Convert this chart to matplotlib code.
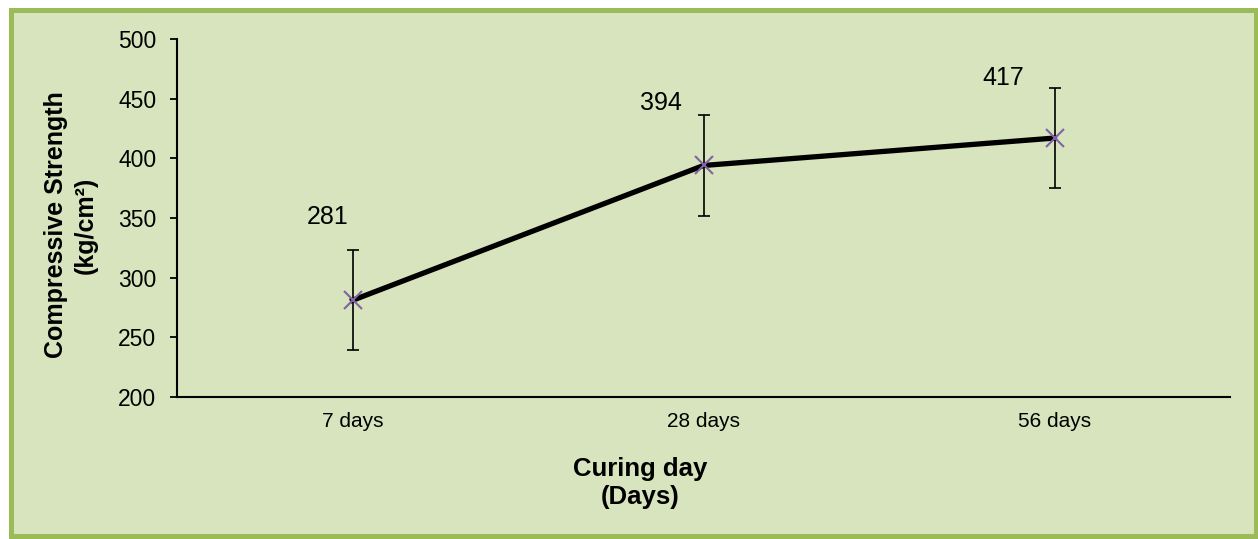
import matplotlib
matplotlib.use("Agg")
import matplotlib.pyplot as plt
from matplotlib.patches import Rectangle

categories = ["7 days", "28 days", "56 days"]
strength = [281, 394, 417]
errors = [42, 42, 42]
yticks = [200, 250, 300, 350, 400, 450, 500]
# label offsets (points) relative to each data point
label_offsets = [(-18, 60), (-31, 45), (-37, 43)]

plt.rcParams['font.family'] = ['Liberation Sans', 'DejaVu Sans']

W, H = 1258, 539
fig = plt.figure(figsize=(W / 100, H / 100), dpi=100)
fig.patch.set_facecolor('white')

# background panel with green border
bg = Rectangle((10.5 / W, 1 - 536 / H), 1245 / W, 526.5 / H,
               transform=fig.transFigure, facecolor='#D7E4BD',
               edgecolor='#9BBB59', linewidth=3.6, zorder=-10)
fig.patches.append(bg)

ax = fig.add_axes([177 / W, 1 - 397 / H, (1230 - 177) / W, (397 - 39) / H])
ax.set_zorder(5)
ax.set_facecolor('none')
x = list(range(len(categories)))
ax.errorbar(x, strength, yerr=errors, fmt='none', ecolor='black',
            elinewidth=1.2, capsize=4.5, capthick=1.2, zorder=2)
ax.plot(x, strength, color='black', linewidth=3.8, zorder=3)
ax.plot(x, strength, linestyle='none', marker='x', markersize=13.5,
        markeredgewidth=1.5, color='#8064A2', zorder=4)

for xi, v, off in zip(x, strength, label_offsets):
    ax.annotate(f"{v}", (xi, v), xytext=off, textcoords='offset points',
                ha='center', va='center', fontsize=18)

ax.set_xlim(-0.5, 2.5)
ax.set_ylim(200, 500)
ax.set_yticks(yticks)
ax.set_xticks(x)
ax.set_xticklabels(categories, fontsize=15)
ax.tick_params(axis='x', length=0, pad=11)
ax.tick_params(axis='y', length=5, width=1.3, labelsize=16.5, pad=10)
for s in ['top', 'right']:
    ax.spines[s].set_visible(False)
for s in ['left', 'bottom']:
    ax.spines[s].set_linewidth(1.5)

fig.text(640 / W, 1 - 483 / H, "Curing day\n(Days)", ha='center', va='center',
         fontsize=18.5, fontweight='bold', linespacing=1.2, zorder=6)
fig.text(71 / W, 1 - 225 / H, "Compressive Strength\n(kg/cm²)", ha='center',
         va='center', rotation=90, fontsize=18, fontweight='bold',
         linespacing=1.3, zorder=6)

fig.savefig("out.png", dpi=100)
